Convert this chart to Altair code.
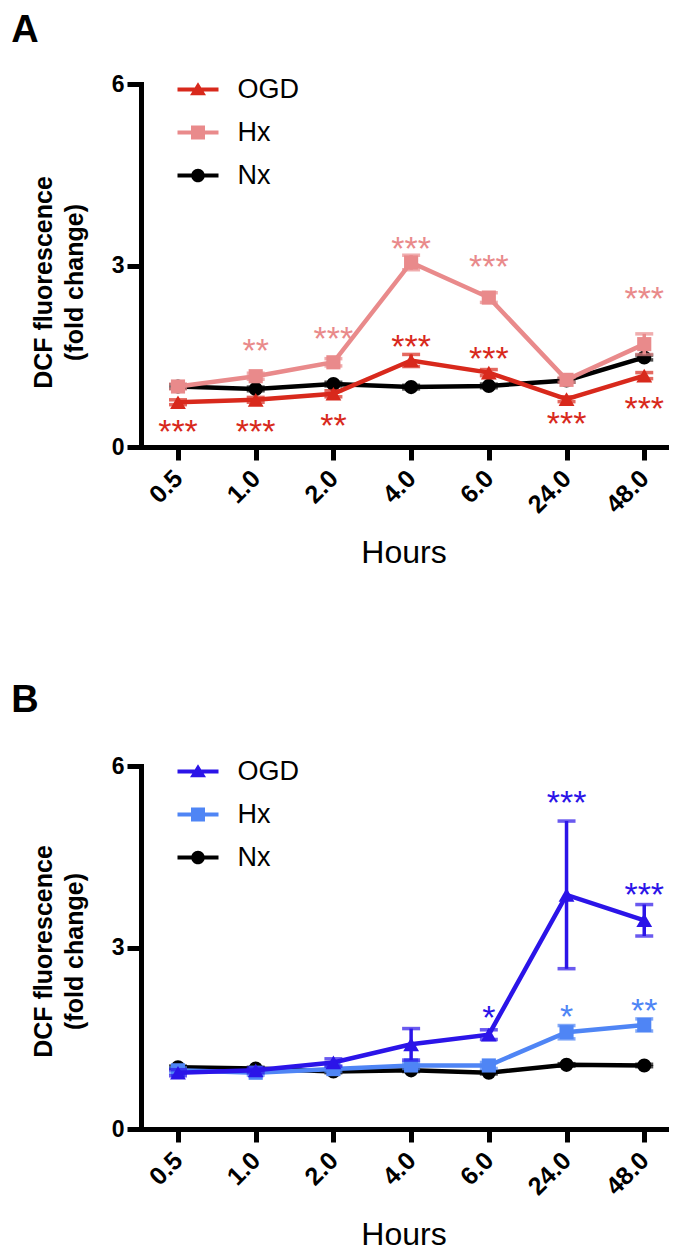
import altair as alt
import pandas as pd

F = "Liberation Sans"

hours_labels = ["0.5", "1.0", "2.0", "4.0", "6.0", "24.0", "48.0"]
series_names = ["OGD", "Hx", "Nx"]

# ---------------- Panel A ----------------
a_ogd_mean = [0.74, 0.78, 0.88, 1.43, 1.23, 0.79, 1.18]
a_ogd_err = [0.04, 0.04, 0.05, 0.10, 0.05, 0.04, 0.05]
a_hx_mean = [1.00, 1.17, 1.40, 3.05, 2.47, 1.11, 1.70]
a_hx_err = [0.04, 0.05, 0.06, 0.12, 0.08, 0.04, 0.17]
a_nx_mean = [1.00, 0.96, 1.04, 0.99, 1.01, 1.10, 1.48]
a_nx_err = [0.03, 0.03, 0.03, 0.03, 0.03, 0.03, 0.04]
a_ogd_stars = ["***", "***", "**", "***", "***", "***", "***"]
a_ogd_star_y = [0.33, 0.33, 0.43, 1.74, 1.54, 0.46, 0.71]
a_hx_stars = ["", "**", "***", "***", "***", "", "***"]
a_hx_star_y = [None, 1.67, 1.87, 3.36, 3.06, None, 2.53]

# ---------------- Panel B ----------------
b_ogd_mean = [0.93, 0.97, 1.10, 1.40, 1.56, 3.87, 3.45]
b_ogd_err = [0.05, 0.04, 0.06, 0.26, 0.08, 1.22, 0.26]
b_hx_mean = [0.97, 0.93, 0.99, 1.05, 1.05, 1.60, 1.72]
b_hx_err = [0.04, 0.04, 0.04, 0.05, 0.05, 0.11, 0.10]
b_nx_mean = [1.02, 1.00, 0.95, 0.97, 0.93, 1.06, 1.05]
b_nx_err = [0.02, 0.02, 0.02, 0.02, 0.02, 0.02, 0.02]
b_ogd_stars = ["", "", "", "", "*", "***", "***"]
b_ogd_star_y = [None, None, None, None, 1.91, 5.47, 3.95]
b_hx_stars = ["", "", "", "", "", "*", "**"]
b_hx_star_y = [None, None, None, None, None, 1.94, 2.04]

no_stars = [""] * 7
no_star_y = [None] * 7

colors_a = ["#d8291c", "#e98a8b", "#000000"]
colors_b = ["#2b14e8", "#4f85f5", "#000000"]

shapes = {"OGD": "triangle-up", "Hx": "square", "Nx": "circle"}
sizes = {"OGD": 250, "Hx": 200, "Nx": 200}

# legend symbols: a short line with the marker on it (unit = sqrt(size)/2 px)
bar = "M-2.05,-0.2H2.05V0.2H-2.05Z "
legend_paths = [
    bar + "M0,-0.72L0.8,0.58H-0.8Z",
    bar + "M-0.7,-0.7H0.7V0.7H-0.7Z",
    bar + "M-0.68,0A0.68,0.68,0,1,1,0.68,0A0.68,0.68,0,1,1,-0.68,0Z",
]


def build_df(means, errs, stars, star_ys):
    rows = []
    for s in series_names:
        for i, h in enumerate(hours_labels):
            rows.append({"series": s, "idx": i, "hour": h,
                         "mean": means[s][i], "err": errs[s][i],
                         "star": stars[s][i], "star_y": star_ys[s][i]})
    return pd.DataFrame(rows)


df_a = build_df({"OGD": a_ogd_mean, "Hx": a_hx_mean, "Nx": a_nx_mean},
                {"OGD": a_ogd_err, "Hx": a_hx_err, "Nx": a_nx_err},
                {"OGD": a_ogd_stars, "Hx": a_hx_stars, "Nx": no_stars},
                {"OGD": a_ogd_star_y, "Hx": a_hx_star_y, "Nx": no_star_y})
df_b = build_df({"OGD": b_ogd_mean, "Hx": b_hx_mean, "Nx": b_nx_mean},
                {"OGD": b_ogd_err, "Hx": b_hx_err, "Nx": b_nx_err},
                {"OGD": b_ogd_stars, "Hx": b_hx_stars, "Nx": no_stars},
                {"OGD": b_ogd_star_y, "Hx": b_hx_star_y, "Nx": no_star_y})

label_expr = "[" + ",".join("'%s'" % h for h in hours_labels) + "][datum.value]"

xaxis = alt.Axis(values=list(range(len(hours_labels))), labelExpr=label_expr,
                 labelAngle=-45, labelAlign="right", labelBaseline="middle",
                 labelFont=F, labelFontWeight="bold", labelFontSize=25,
                 labelColor="black", labelPadding=14, labelFlush=False, labelOverlap=False,
                 title="Hours", titleFont=F, titleFontSize=32, titleFontWeight="normal",
                 titleColor="black", titlePadding=20,
                 domainColor="black", domainWidth=5, domainCap="square",
                 tickColor="black", tickWidth=5, tickSize=13, grid=False)


def yaxis(title_y):
    return alt.Axis(values=[0, 3, 6], labelFont=F, labelFontWeight="bold", labelFontSize=23,
                    labelColor="black", labelPadding=3, labelOverlap=False, labelFlush=False,
                    title=["DCF fluorescence", "(fold change)"], titleFont=F, titleFontSize=25,
                    titleFontWeight="bold", titleColor="black", titleLineHeight=31,
                    titlePadding=24, titleY=title_y,
                    domainColor="black", domainWidth=5, domainCap="square",
                    tickColor="black", tickWidth=5, tickSize=14, grid=False)


def make_panel(df, colors, letter, title_y, title_offset):
    cmap = dict(zip(series_names, colors))
    xscale = alt.Scale(domain=[-0.476, 6.28], nice=False, zero=False)
    yscale = alt.Scale(domain=[0, 6], nice=False, zero=True)
    ya = yaxis(title_y)

    def X():
        return alt.X("idx:Q", scale=xscale, axis=xaxis)

    def Y(f):
        return alt.Y(f, type="quantitative", scale=yscale, axis=ya)

    base = alt.Chart(df).transform_calculate(lo="datum.mean - datum.err",
                                             hi="datum.mean + datum.err")
    layers = []
    for s in ["Nx", "Hx", "OGD"]:
        c = cmap[s]
        sub = base.transform_filter(alt.datum.series == s)
        layers.append(sub.mark_rule(strokeWidth=3.5, color=c).encode(
            x=X(), y=Y("lo"), y2="hi:Q"))
        layers.append(sub.transform_fold(["lo", "hi"], as_=["end", "val"]).mark_tick(
            orient="horizontal", size=18, thickness=3.5, color=c).encode(x=X(), y=Y("val")))
        layers.append(sub.mark_line(strokeWidth=4.5, color=c).encode(x=X(), y=Y("mean")))
        layers.append(sub.mark_point(shape=shapes[s], filled=True, size=sizes[s], opacity=1,
                                     color=c).encode(x=X(), y=Y("mean")))
    for s in ["Hx", "OGD"]:
        layers.append(base.transform_filter((alt.datum.series == s) & (alt.datum.star != ""))
                      .mark_text(font=F, fontSize=34, baseline="alphabetic", dy=16, color=cmap[s])
                      .encode(x=X(), y=Y("star_y"), text="star:N"))
    leg = alt.Legend(orient="none", legendX=43.5, legendY=-8, title=None, labelFont=F,
                     labelFontSize=27, labelColor="black", labelOffset=26, rowPadding=15,
                     padding=0, symbolSize=400)
    layers.append(base.transform_filter("false").mark_point(filled=True, size=400, opacity=1).encode(
        x=X(), y=Y("mean"),
        color=alt.Color("series:N", scale=alt.Scale(domain=series_names, range=colors), legend=leg),
        shape=alt.Shape("series:N", scale=alt.Scale(domain=series_names, range=legend_paths),
                        legend=leg)))
    return alt.layer(*layers).properties(
        width=525, height=363,
        title=alt.TitleParams(letter, anchor="start", frame="bounds", font=F, fontSize=38,
                              fontWeight="bold", color="black", dx=-20, offset=title_offset))


panel_a = make_panel(df_a, colors_a, "A", 198, 23)
panel_b = make_panel(df_b, colors_b, "B", 185, 35)

chart = alt.vconcat(panel_a, panel_b, spacing=113).resolve_scale(
    color="independent", shape="independent"
).properties(
    padding={"left": 3, "top": 4, "right": 5, "bottom": 0},
    background="white",
).configure_view(stroke=None)

chart.save("out.html", embed_options={"renderer": "svg", "actions": False})
